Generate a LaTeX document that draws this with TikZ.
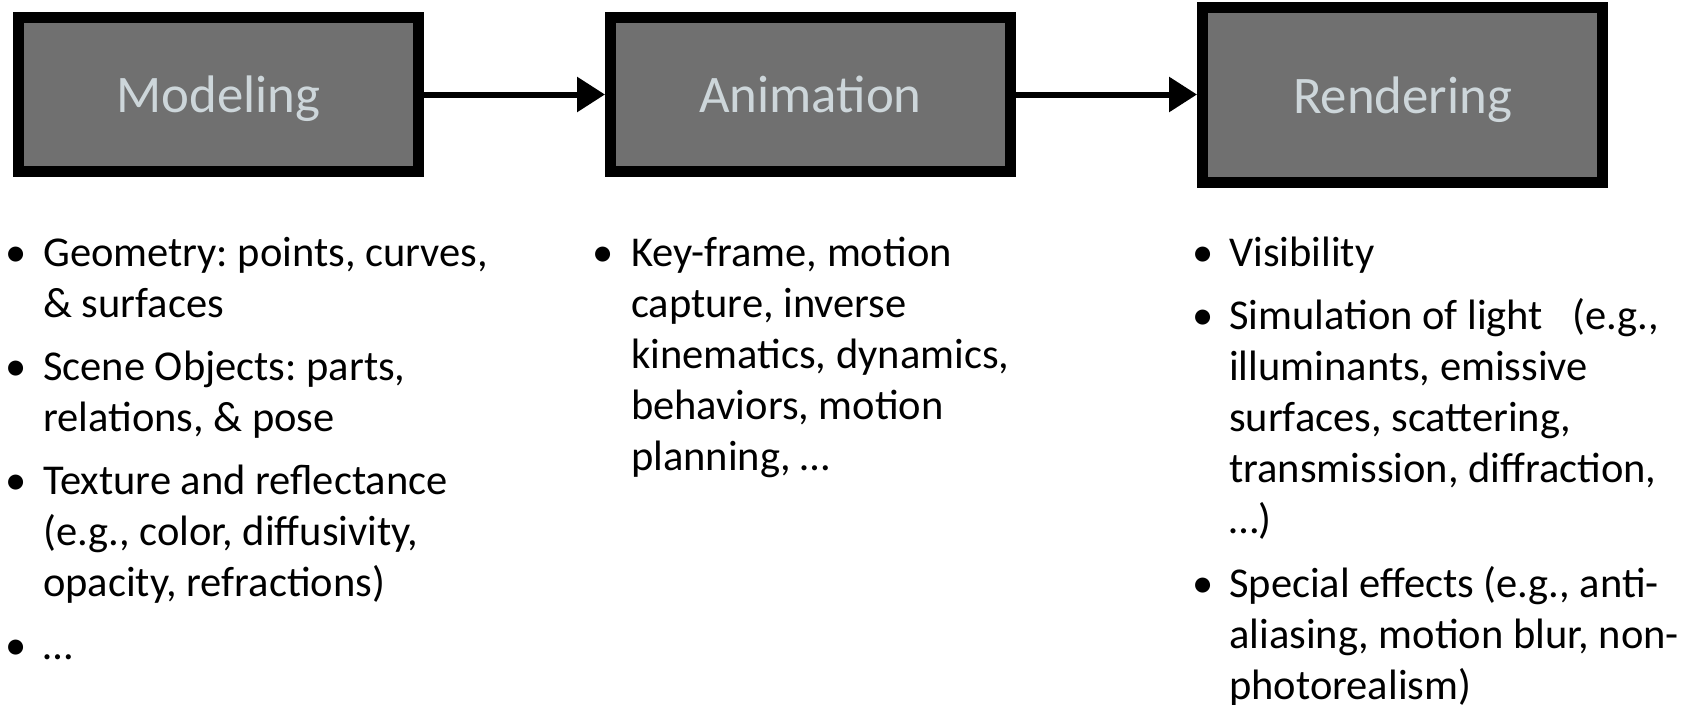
\documentclass[tikz,border=0pt]{standalone}
\usepackage{fontspec}
\setmainfont{Carlito}
\usetikzlibrary{arrows.meta}
\frenchspacing
\definecolor{boxfill}{RGB}{112,112,112}
\definecolor{titlecol}{RGB}{205,214,218}
\newcommand\mylines[1]{\begin{tabular}[t]{@{}l@{}}#1\end{tabular}}
\tikzset{
  stagebox/.style={draw=black, line width=11pt, fill=boxfill, minimum width=400pt,
    minimum height=154pt, inner sep=0pt, text=titlecol, text height=42pt, text depth=6pt,
    font=\fontsize{52.8}{60}\selectfont},
  flowarrow/.style={line width=6pt, -{Triangle[length=28pt,width=34pt]}},
  itemtext/.style={anchor=base west, inner sep=0pt, font=\fontsize{42.5}{51}\selectfont},
  bulletmark/.style={anchor=base, inner sep=0pt, font=\fontsize{42.5}{51}\selectfont}
}
\begin{document}
\begin{tikzpicture}[x=1pt,y=-1pt]
\useasboundingbox (0,0) rectangle (1694,704);
\node[stagebox] (mod) at (218.5,94.5) {Modeling};
\node[stagebox] (ani) at (810.5,94.5) {Animation};
\node[stagebox, minimum height=175pt] (ren) at (1402.5,95) {Rendering};
\draw[flowarrow] (mod.east |- 0,94.5) -- (ani.west |- 0,94.5);
\draw[flowarrow] (ani.east |- 0,94.5) -- (ren.west |- 0,94.5);
% column 1
\node[bulletmark] (m1b) at (16,266) {\textbullet};
\node[itemtext] (m1) at (43,266) {\mylines{Geometry: points, curves,\\\& surfaces}};
\node[bulletmark] (m2b) at (16,380) {\textbullet};
\node[itemtext] (m2) at (43,380) {\mylines{Scene Objects: parts,\\relations, \& pose}};
\node[bulletmark] (m3b) at (16,494) {\textbullet};
\node[itemtext] (m3) at (43,494) {\mylines{Texture and reflectance\\(e.g., color, diffusivity,\\opacity, refractions)}};
\node[bulletmark] (m4b) at (16,659) {\textbullet};
\node[itemtext] (m4) at (43,659) {…};
% column 2
\node[bulletmark] (a1b) at (603,266) {\textbullet};
\node[itemtext] (a1) at (631,266) {\mylines{Key-frame, motion\\capture, inverse\\kinematics, dynamics,\\behaviors, motion\\planning, …}};
% column 3
\node[bulletmark] (r1b) at (1203,266) {\textbullet};
\node[itemtext] (r1) at (1229,266) {Visibility};
\node[bulletmark] (r2b) at (1203,329) {\textbullet};
\node[itemtext] (r2) at (1229,329) {\mylines{Simulation of light\hspace{0.69em}(e.g.,\\illuminants, emissive\\surfaces, scattering,\\transmission, diffraction,\\…)}};
\node[bulletmark] (r3b) at (1203,597) {\textbullet};
\node[itemtext] (r3) at (1229,597) {\mylines{Special effects (e.g., anti-\\aliasing, motion blur, non-\\photorealism)}};
\end{tikzpicture}
\end{document}
